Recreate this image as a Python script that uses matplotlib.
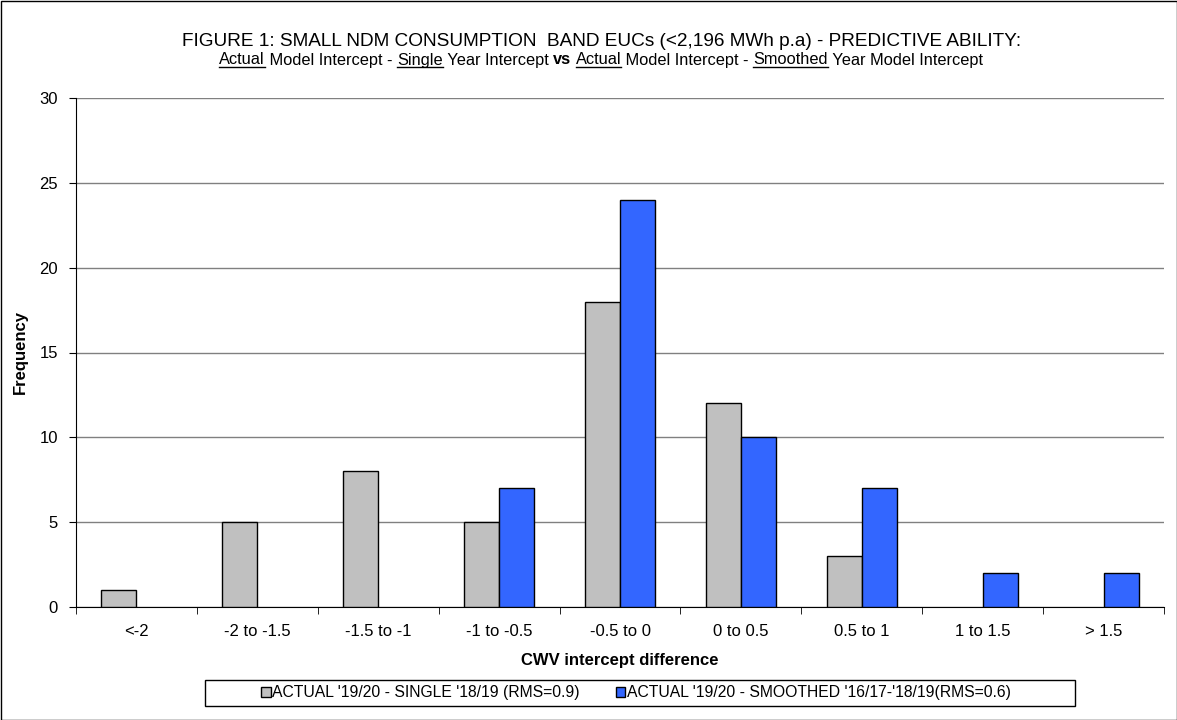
import matplotlib
matplotlib.use('Agg')
import matplotlib.pyplot as plt
import numpy as np
from matplotlib.lines import Line2D
from matplotlib.patches import Rectangle

plt.rcParams['font.family'] = ['Liberation Sans', 'DejaVu Sans']

categories = ['<-2', '-2 to -1.5', '-1.5 to -1', '-1 to -0.5', '-0.5 to 0',
              '0 to 0.5', '0.5 to 1', '1 to 1.5', '> 1.5']
single = [1, 5, 8, 5, 18, 12, 3, 0, 0]
smoothed = [0, 0, 0, 7, 24, 10, 7, 2, 2]
labels = ["ACTUAL '19/20 - SINGLE '18/19 (RMS=0.9)",
          "ACTUAL '19/20 - SMOOTHED '16/17-'18/19(RMS=0.6)"]

fig = plt.figure(figsize=(11.77, 7.2), dpi=100)
ax = fig.add_axes([76/1177, 1-607/720, 1088/1177, 509/720])

x = np.arange(len(categories))
w = 0.29
s1 = np.array(single, dtype=float)
s2 = np.array(smoothed, dtype=float)
m1 = s1 > 0
m2 = s2 > 0
ax.bar(x[m1] - w/2, s1[m1], w, color='#c0c0c0', edgecolor='black', linewidth=1, zorder=3)
ax.bar(x[m2] + w/2, s2[m2], w, color='#3366ff', edgecolor='black', linewidth=1, zorder=3)

ax.set_xlim(-0.5, len(categories) - 0.5)
ax.set_ylim(0, 30)
ax.set_yticks(range(0, 31, 5))
ax.yaxis.grid(True, color='#808080', linewidth=1, zorder=0)
ax.set_xticks(x)
ax.set_xticklabels(categories, fontsize=12)
ax.set_xticks(np.arange(-0.5, len(categories)), minor=True)
ax.tick_params(axis='x', which='major', length=0, pad=12)
ax.tick_params(axis='x', which='minor', length=5, direction='out')
ax.tick_params(axis='y', labelsize=12, length=5, direction='out', pad=8)
for s in ['top', 'right']:
    ax.spines[s].set_visible(False)
ax.set_xlabel('CWV intercept difference', fontsize=12, fontweight='bold', labelpad=10)
ax.set_ylabel('Frequency', fontsize=12, fontweight='bold', labelpad=8)

fig.text(602/1177, 1-42/720, 'FIGURE 1: SMALL NDM CONSUMPTION  BAND EUCs (<2,196 MWh p.a) - PREDICTIVE ABILITY:',
         ha='center', va='center', fontsize=13.7)

# subtitle with underlined/bold pieces
parts = [('Actual', True, False), (' Model Intercept - ', False, False), ('Single', True, False),
         (' Year Intercept ', False, False), ('vs', False, True), (' ', False, False),
         ('Actual', True, False), (' Model Intercept - ', False, False), ('Smoothed', True, False),
         (' Year Model Intercept', False, False)]
r = fig.canvas.get_renderer()
texts = []
for p, u, b in parts:
    t = fig.text(0, 1-64.5/720, p, fontsize=11.8, va='baseline', ha='left',
                 fontweight='bold' if b else 'normal')
    texts.append(t)
widths = [t.get_window_extent(r).width for t in texts]
total = sum(widths)
xpos = 601 - total/2
for t, (p, u, b), wd in zip(texts, parts, widths):
    t.set_x(xpos/1177)
    if u:
        fig.add_artist(Line2D([xpos/1177, (xpos+wd)/1177], [1-67/720]*2,
                              color='black', linewidth=1, transform=fig.transFigure))
    xpos += wd

# legend
leg = fig.legend([Rectangle((0, 0), 1, 1, fc='#c0c0c0', ec='black'),
                  Rectangle((0, 0), 1, 1, fc='#3366ff', ec='black')], labels,
                 loc='center', bbox_to_anchor=(636/1177, 1-693/720), ncol=2, fontsize=11.3,
                 frameon=False, handlelength=0.6, handleheight=0.6, handletextpad=0.1,
                 columnspacing=2.3)
fig.add_artist(Rectangle((205/1177, 1-706/720), 870/1177, 26/720, fill=False,
                         edgecolor='black', linewidth=1, transform=fig.transFigure))

fig.add_artist(Rectangle((0.5/1177, 0.5/720), 1-1/1177, 1-1/720, fill=False,
                         edgecolor='black', linewidth=1, transform=fig.transFigure))

plt.savefig('out.png', dpi=100)
